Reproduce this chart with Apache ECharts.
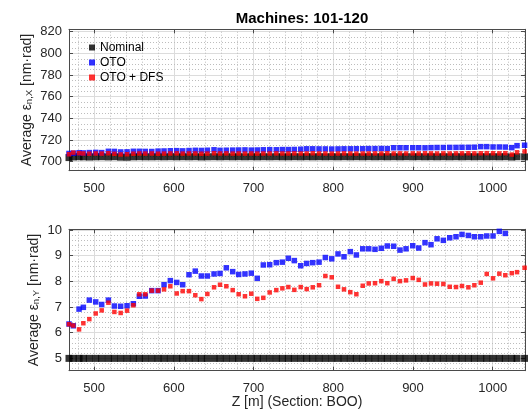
<!DOCTYPE html>
<html><head><meta charset="utf-8">
<script src="https://cdn.jsdelivr.net/npm/echarts@6/dist/echarts.min.js"></script>
<style>html,body{margin:0;padding:0;background:#fff}#c{width:528px;height:411px}</style>
</head><body><div id="c"></div>
<script>
const titleText = 'Machines: 101-120';
const seriesNames = ['Nominal', 'OTO', 'OTO + DFS'];
const zPos = [468.6, 474, 481.2, 486.6, 494.1, 502.1, 509.6, 518, 525.5, 533.4, 541.4,
  549.3, 556.8, 564.3, 572.4, 580.3, 587.8, 595.7, 603.7, 611.2, 619.1,
  627, 634.6, 642.1, 650.5, 658, 665.9, 673.9, 681.4, 689.3, 697.2,
  704.7, 712.3, 720.3, 728.6, 736.2, 743.7, 751.2, 759.2, 766.7, 774.3,
  782.2, 790.1, 798.1, 806, 813.5, 821.4, 829, 837, 844.5, 852.4,
  860.3, 867.8, 875.8, 883.7, 891.3, 899.7, 907.2, 915.1, 922.6, 930.2,
  938.1, 946.1, 954, 961.5, 969.5, 977, 985, 992.5, 1000.4, 1008.3,
  1015.8, 1023.9, 1030.5, 1040];

// top panel: average emittance X [nm rad]
const nominalX = [703.8, 704.4, 704.6, 704.5, 704.3, 704.5, 704.6, 704.4, 704.6, 704.2,
  704.1, 704.5, 704.6, 704.5, 704.5, 704.6, 704.5, 704.6, 704.5, 704.6,
  704.5, 704.6, 704.4, 704.5, 704.6, 704.5, 704.6, 704.5, 704.6, 704.5,
  704.6, 704.5, 704.6, 704.5, 704.6, 704.5, 704.5, 704.6, 704.5, 704.6,
  704.5, 704.6, 704.5, 704.6, 704.5, 704.6, 704.5, 704.6, 704.5, 704.6,
  704.5, 704.6, 704.5, 704.6, 704.5, 704.6, 704.5, 704.6, 704.5, 704.6,
  704.5, 704.6, 704.5, 704.6, 704.5, 704.6, 704.5, 704.6, 704.5, 704.6,
  704.5, 704.6, 704.3, 704.6, 704.5];
const otoX = [707.6, 707.9, 708.3, 708.1, 708.4, 708.6, 708.4, 709.6, 709.5, 709.0,
  709.1, 709.6, 709.6, 709.5, 709.4, 709.8, 709.9, 710.1, 710.2, 710.0,
  710.3, 710.5, 710.4, 710.6, 711.0, 710.5, 710.6, 710.7, 710.8, 710.9,
  710.7, 710.8, 711.0, 711.1, 711.0, 711.2, 711.2, 711.3, 711.5, 711.9,
  711.9, 711.8, 711.8, 711.7, 711.8, 711.9, 711.9, 712.0, 712.0, 712.1,
  712.1, 712.2, 712.1, 712.9, 712.9, 712.9, 712.9, 712.9, 712.8, 713.0,
  713.1, 713.1, 713.2, 713.2, 713.3, 713.3, 713.4, 713.9, 713.9, 713.6,
  713.6, 713.5, 713.0, 714.8, 715.2];
const otoDfsX = [706.9, 708.4, 707.9, 707.6, 707.4, 707.6, 707.5, 707.8, 707.3, 706.7,
  706.9, 707.4, 707.6, 707.5, 707.6, 707.4, 707.5, 707.6, 707.7, 707.5,
  707.6, 707.6, 707.4, 707.5, 707.8, 707.6, 707.7, 707.5, 707.6, 707.5,
  707.6, 707.5, 707.6, 707.6, 707.7, 707.6, 707.6, 707.7, 707.6, 707.6,
  707.8, 707.6, 707.6, 707.5, 707.6, 707.7, 707.6, 707.5, 707.6, 707.6,
  707.7, 707.6, 707.8, 707.6, 707.7, 707.6, 707.7, 707.6, 707.8, 707.7,
  707.6, 707.7, 707.6, 707.7, 707.7, 707.8, 707.7, 707.8, 707.9, 707.8,
  707.7, 707.9, 706.6, 708.7, 709.5];

// bottom panel: average emittance Y [nm rad]
const nominalY = [5.0, 5.0, 5.0, 5.0, 5.0, 5.0, 5.0, 5.0, 5.0, 5.0,
  5.0, 5.0, 5.0, 5.0, 5.0, 5.0, 5.0, 5.0, 5.0, 5.0,
  5.0, 5.0, 5.0, 5.0, 5.0, 5.0, 5.0, 5.0, 5.0, 5.0,
  5.0, 5.0, 5.0, 5.0, 5.0, 5.0, 5.0, 5.0, 5.0, 5.0,
  5.0, 5.0, 5.0, 5.0, 5.0, 5.0, 5.0, 5.0, 5.0, 5.0,
  5.0, 5.0, 5.0, 5.0, 5.0, 5.0, 5.0, 5.0, 5.0, 5.0,
  5.0, 5.0, 5.0, 5.0, 5.0, 5.0, 5.0, 5.0, 5.0, 5.0,
  5.0, 5.0, 5.0, 5.0, 5.0];
const otoY = [6.34, 6.27, 6.92, 6.99, 7.27, 7.2, 7.1, 7.27, 7.04, 7.03,
  7.05, 7.13, 7.42, 7.43, 7.64, 7.64, 7.87, 8.03, 7.96, 7.87,
  8.26, 8.40, 8.21, 8.21, 8.29, 8.31, 8.53, 8.38, 8.27, 8.29,
  8.32, 8.12, 8.64, 8.65, 8.73, 8.75, 8.90, 8.81, 8.61, 8.70,
  8.73, 8.75, 8.93, 8.88, 9.07, 8.96, 9.16, 9.03, 9.27, 9.27,
  9.25, 9.29, 9.38, 9.37, 9.22, 9.27, 9.39, 9.30, 9.51, 9.43,
  9.66, 9.60, 9.70, 9.74, 9.83, 9.79, 9.74, 9.74, 9.77, 9.77,
  9.95, 9.87, null, null, null];
const otoDfsY = [6.33, 6.28, 6.13, 6.37, 6.53, 6.75, 6.87, 7.17, 6.81, 6.77,
  6.86, 7.07, 7.5, 7.5, 7.64, 7.64, 7.69, 7.81, 7.53, 7.62,
  7.62, 7.46, 7.31, 7.51, 7.77, 7.87, 7.81, 7.66, 7.5, 7.42,
  7.52, 7.32, 7.36, 7.57, 7.66, 7.73, 7.78, 7.67, 7.78, 7.70,
  7.77, 7.85, 8.21, 8.16, 7.79, 7.69, 7.58, 7.5, 7.83, 7.92,
  7.93, 8.01, 7.93, 8.10, 8.01, 8.04, 8.13, 8.06, 7.88, 7.92,
  7.91, 7.90, 7.79, 7.78, 7.82, 7.77, 7.85, 7.95, 8.29, 8.12,
  8.30, 8.24, 8.32, 8.36, 8.53];

// axis ranges and grid steps
const xRange = [468.6, 1040.5];
const yTopRange = [691.7, 822.2];
const yBotRange = [4.52, 10.03];
const xMajorStep = 100, xMinorStep = 20;
const yTopMajorStep = 20, yTopMinorStep = 5;
const yBotMajorStep = 1, yBotMinorStep = 0.2;

function minorList(range, minor, major) {
  const out = [];
  const start = Math.ceil(range[0] / minor - 1e-9);
  const end = Math.floor(range[1] / minor + 1e-9);
  for (let k = start; k <= end; k++) {
    const v = +(k * minor).toFixed(6);
    const r = v / major;
    if (Math.abs(r - Math.round(r)) < 1e-6) continue;
    out.push(v);
  }
  return out;
}

const FONT = '"Liberation Sans", Arial, Helvetica, sans-serif';
const axisColor = '#4a4a4a';
const textColor = '#262626';
const majorGrid = { show: true, lineStyle: { color: '#dcdcdc', width: 1 } };
const minorLineStyle = { color: '#bdbdbd', width: 1, type: [1, 2] };
const fmt = v => String(Math.round(v * 1000) / 1000);

const grids = [
  { left: 69, right: 3, top: 29.3, height: 141.4 },
  { left: 69, right: 3, top: 229.3, height: 141.4 }
];

function xAxes(gridIndex, withName) {
  return [{
    type: 'value', gridIndex, min: xRange[0], max: xRange[1], splitNumber: 5,
    axisLine: { show: true, onZero: false, lineStyle: { color: axisColor } },
    axisTick: { show: true, inside: true, length: 4, lineStyle: { color: axisColor } },
    axisLabel: { fontSize: 13, color: textColor, fontFamily: FONT, margin: 11, showMinLabel: false, showMaxLabel: false, formatter: fmt },
    splitLine: majorGrid,
    name: withName ? 'Z [m] (Section: BOO)' : '',
    nameLocation: 'middle', nameGap: 24, nameMoveOverlap: false,
    nameTextStyle: { fontSize: 14, color: textColor, fontFamily: FONT }
  }, {
    type: 'value', gridIndex, position: 'top', min: xRange[0], max: xRange[1], splitNumber: 5,
    axisLine: { show: true, onZero: false, lineStyle: { color: axisColor } },
    axisTick: { show: true, inside: true, length: 4, lineStyle: { color: axisColor } },
    axisLabel: { show: false }, splitLine: { show: false }
  }];
}

function yAxes(gridIndex, range, splitNumber, sub, nameGap) {
  return [{
    type: 'value', gridIndex, min: range[0], max: range[1], splitNumber,
    axisLine: { show: true, onZero: false, lineStyle: { color: axisColor } },
    axisTick: { show: true, inside: true, length: 4, lineStyle: { color: axisColor } },
    axisLabel: { fontSize: 13, color: textColor, fontFamily: FONT, margin: 7, showMinLabel: false, showMaxLabel: false, formatter: fmt },
    splitLine: majorGrid,
    name: '{a|Average ε}{s|' + sub + '}{a| [nm·rad]}',
    nameLocation: 'middle', nameRotate: 90, nameGap, nameMoveOverlap: false,
    nameTextStyle: {
      fontFamily: FONT, color: textColor,
      rich: {
        a: { fontSize: 14, fontFamily: FONT, color: textColor, lineHeight: 16, verticalAlign: 'bottom' },
        s: { fontSize: 9.5, fontFamily: FONT, color: textColor, lineHeight: 11, verticalAlign: 'bottom' }
      }
    }
  }, {
    type: 'value', gridIndex, position: 'right', min: range[0], max: range[1], splitNumber,
    axisLine: { show: true, onZero: false, lineStyle: { color: axisColor } },
    axisTick: { show: true, inside: true, length: 4, lineStyle: { color: axisColor } },
    axisLabel: { show: false }, splitLine: { show: false }
  }];
}

function gridSeries(xi, yi, yRange, yMinor, yMajor) {
  const lines = [];
  minorList(xRange, xMinorStep, xMajorStep).forEach(v => lines.push({ xAxis: v }));
  minorList(yRange, yMinor, yMajor).forEach(v => lines.push({ yAxis: v }));
  return {
    type: 'scatter', xAxisIndex: xi, yAxisIndex: yi, data: [], z: 0, zlevel: 0, silent: true,
    markLine: { z: 0, silent: true, symbol: ['none', 'none'], label: { show: false },
      lineStyle: minorLineStyle, emphasis: { disabled: true }, data: lines, animation: false }
  };
}

function pts(vals) { return zPos.map((z, i) => [z, vals[i]]); }

function dataSeries(xi, yi, nom, oto, dfs) {
  const base = { type: 'scatter', xAxisIndex: xi, yAxisIndex: yi, symbol: 'rect', clip: true, silent: true, z: 10 };
  return [
    Object.assign({}, base, { name: seriesNames[0], symbolSize: 7, itemStyle: { color: '#000000' }, data: pts(nom) }),
    Object.assign({}, base, { name: seriesNames[1], symbolSize: 5.5, itemStyle: { color: '#0000ff' }, data: pts(oto) }),
    Object.assign({}, base, { name: seriesNames[2], symbolSize: 4.5, itemStyle: { color: '#ff0000' }, data: pts(dfs) })
  ];
}

const chart = echarts.init(document.getElementById('c'), null, { renderer: 'canvas' });
chart.setOption({
  animation: false,
  backgroundColor: '#ffffff',
  title: {
    text: titleText, left: 297, top: 6, textAlign: 'center',
    textStyle: { fontSize: 15, fontWeight: 'bold', color: '#000', fontFamily: FONT }
  },
  legend: {
    data: seriesNames.map(n => ({ name: n, icon: 'rect' })),
    orient: 'vertical', left: 84, top: 36.5, itemWidth: 6, itemHeight: 6, itemGap: 3,
    textStyle: { fontSize: 12, color: '#000', fontFamily: FONT },
    selectedMode: false, z: 20
  },
  grid: grids,
  xAxis: [...xAxes(0, false), ...xAxes(1, true)],
  yAxis: [...yAxes(0, yTopRange, 6, 'n,X', 34.5), ...yAxes(1, yBotRange, 5, 'n,Y', 28)],
  series: [
    gridSeries(0, 0, yTopRange, yTopMinorStep, yTopMajorStep),
    ...dataSeries(0, 0, nominalX, otoX, otoDfsX),
    gridSeries(2, 2, yBotRange, yBotMinorStep, yBotMajorStep),
    ...dataSeries(2, 2, nominalY, otoY, otoDfsY)
  ]
});
</script>
</body></html>
